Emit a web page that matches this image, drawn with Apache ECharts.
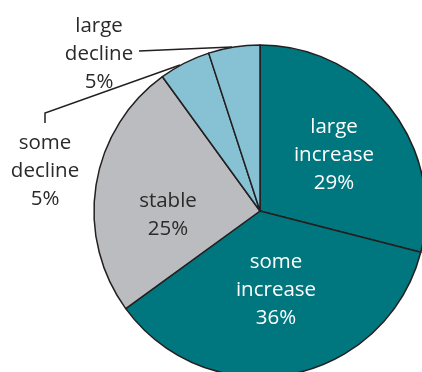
<!DOCTYPE html>
<html><head><meta charset="utf-8">
<script src="https://cdn.jsdelivr.net/npm/echarts@6/dist/echarts.min.js"></script>
<style>html,body{margin:0;padding:0;background:#fff}#c{width:422px;height:372px}</style>
</head><body><div id="c"></div>
<script>
const categories = ['large\nincrease', 'some\nincrease', 'stable', 'some\ndecline', 'large\ndecline'];
const values = [29, 36, 25, 5, 5];
const colors = ['#00767e', '#00767e', '#bbbcbf', '#86c2d4', '#86c2d4'];
const textColors = ['#ffffff', '#ffffff', '#2a2a2a', '#2a2a2a', '#2a2a2a'];
const outside = [false, false, false, true, true];

const chart = echarts.init(document.getElementById('c'), null, {renderer: 'canvas'});
const font = 'Open Sans';
const data = categories.map((n, i) => ({
  name: n, value: values[i],
  itemStyle: {color: colors[i]},
  label: {
    show: true,
    position: outside[i] ? 'outside' : 'inside',
    color: textColors[i],
    fontFamily: font, fontSize: 20.5, lineHeight: 28, align: 'center',
    formatter: p => p.name + '\n' + p.value + '%'
  },
  labelLine: {show: outside[i], lineStyle: {color: '#231f20', width: 1.5}, length: 10, length2: 10, smooth: false}
}));
chart.setOption({
  animation: false,
  series: [{
    type: 'pie',
    center: [260, 211],
    radius: [0, 166],
    startAngle: 90,
    clockwise: true,
    itemStyle: {borderColor: '#231f20', borderWidth: 1.5},
    data: data,
    labelLayout: function (p) {
      if (p.dataIndex === 4) {
        return {x: 99, y: 54, align: 'center', verticalAlign: 'middle',
          labelLinePoints: [[232, 47], [185, 49], [139, 51]]};
      }
      if (p.dataIndex === 3) {
        return {x: 45, y: 171, align: 'center', verticalAlign: 'middle',
          labelLinePoints: [[180, 65], [45, 113], [45, 123]]};
      }
      if (p.dataIndex === 2) {
        return {x: 168, y: 215, align: 'center', verticalAlign: 'middle'};
      }
      if (p.dataIndex === 0) {
        return {x: 334, y: 155, align: 'center', verticalAlign: 'middle'};
      }
      if (p.dataIndex === 1) {
        return {x: 276, y: 290, align: 'center', verticalAlign: 'middle'};
      }
    }
  }]
});
</script></body></html>
